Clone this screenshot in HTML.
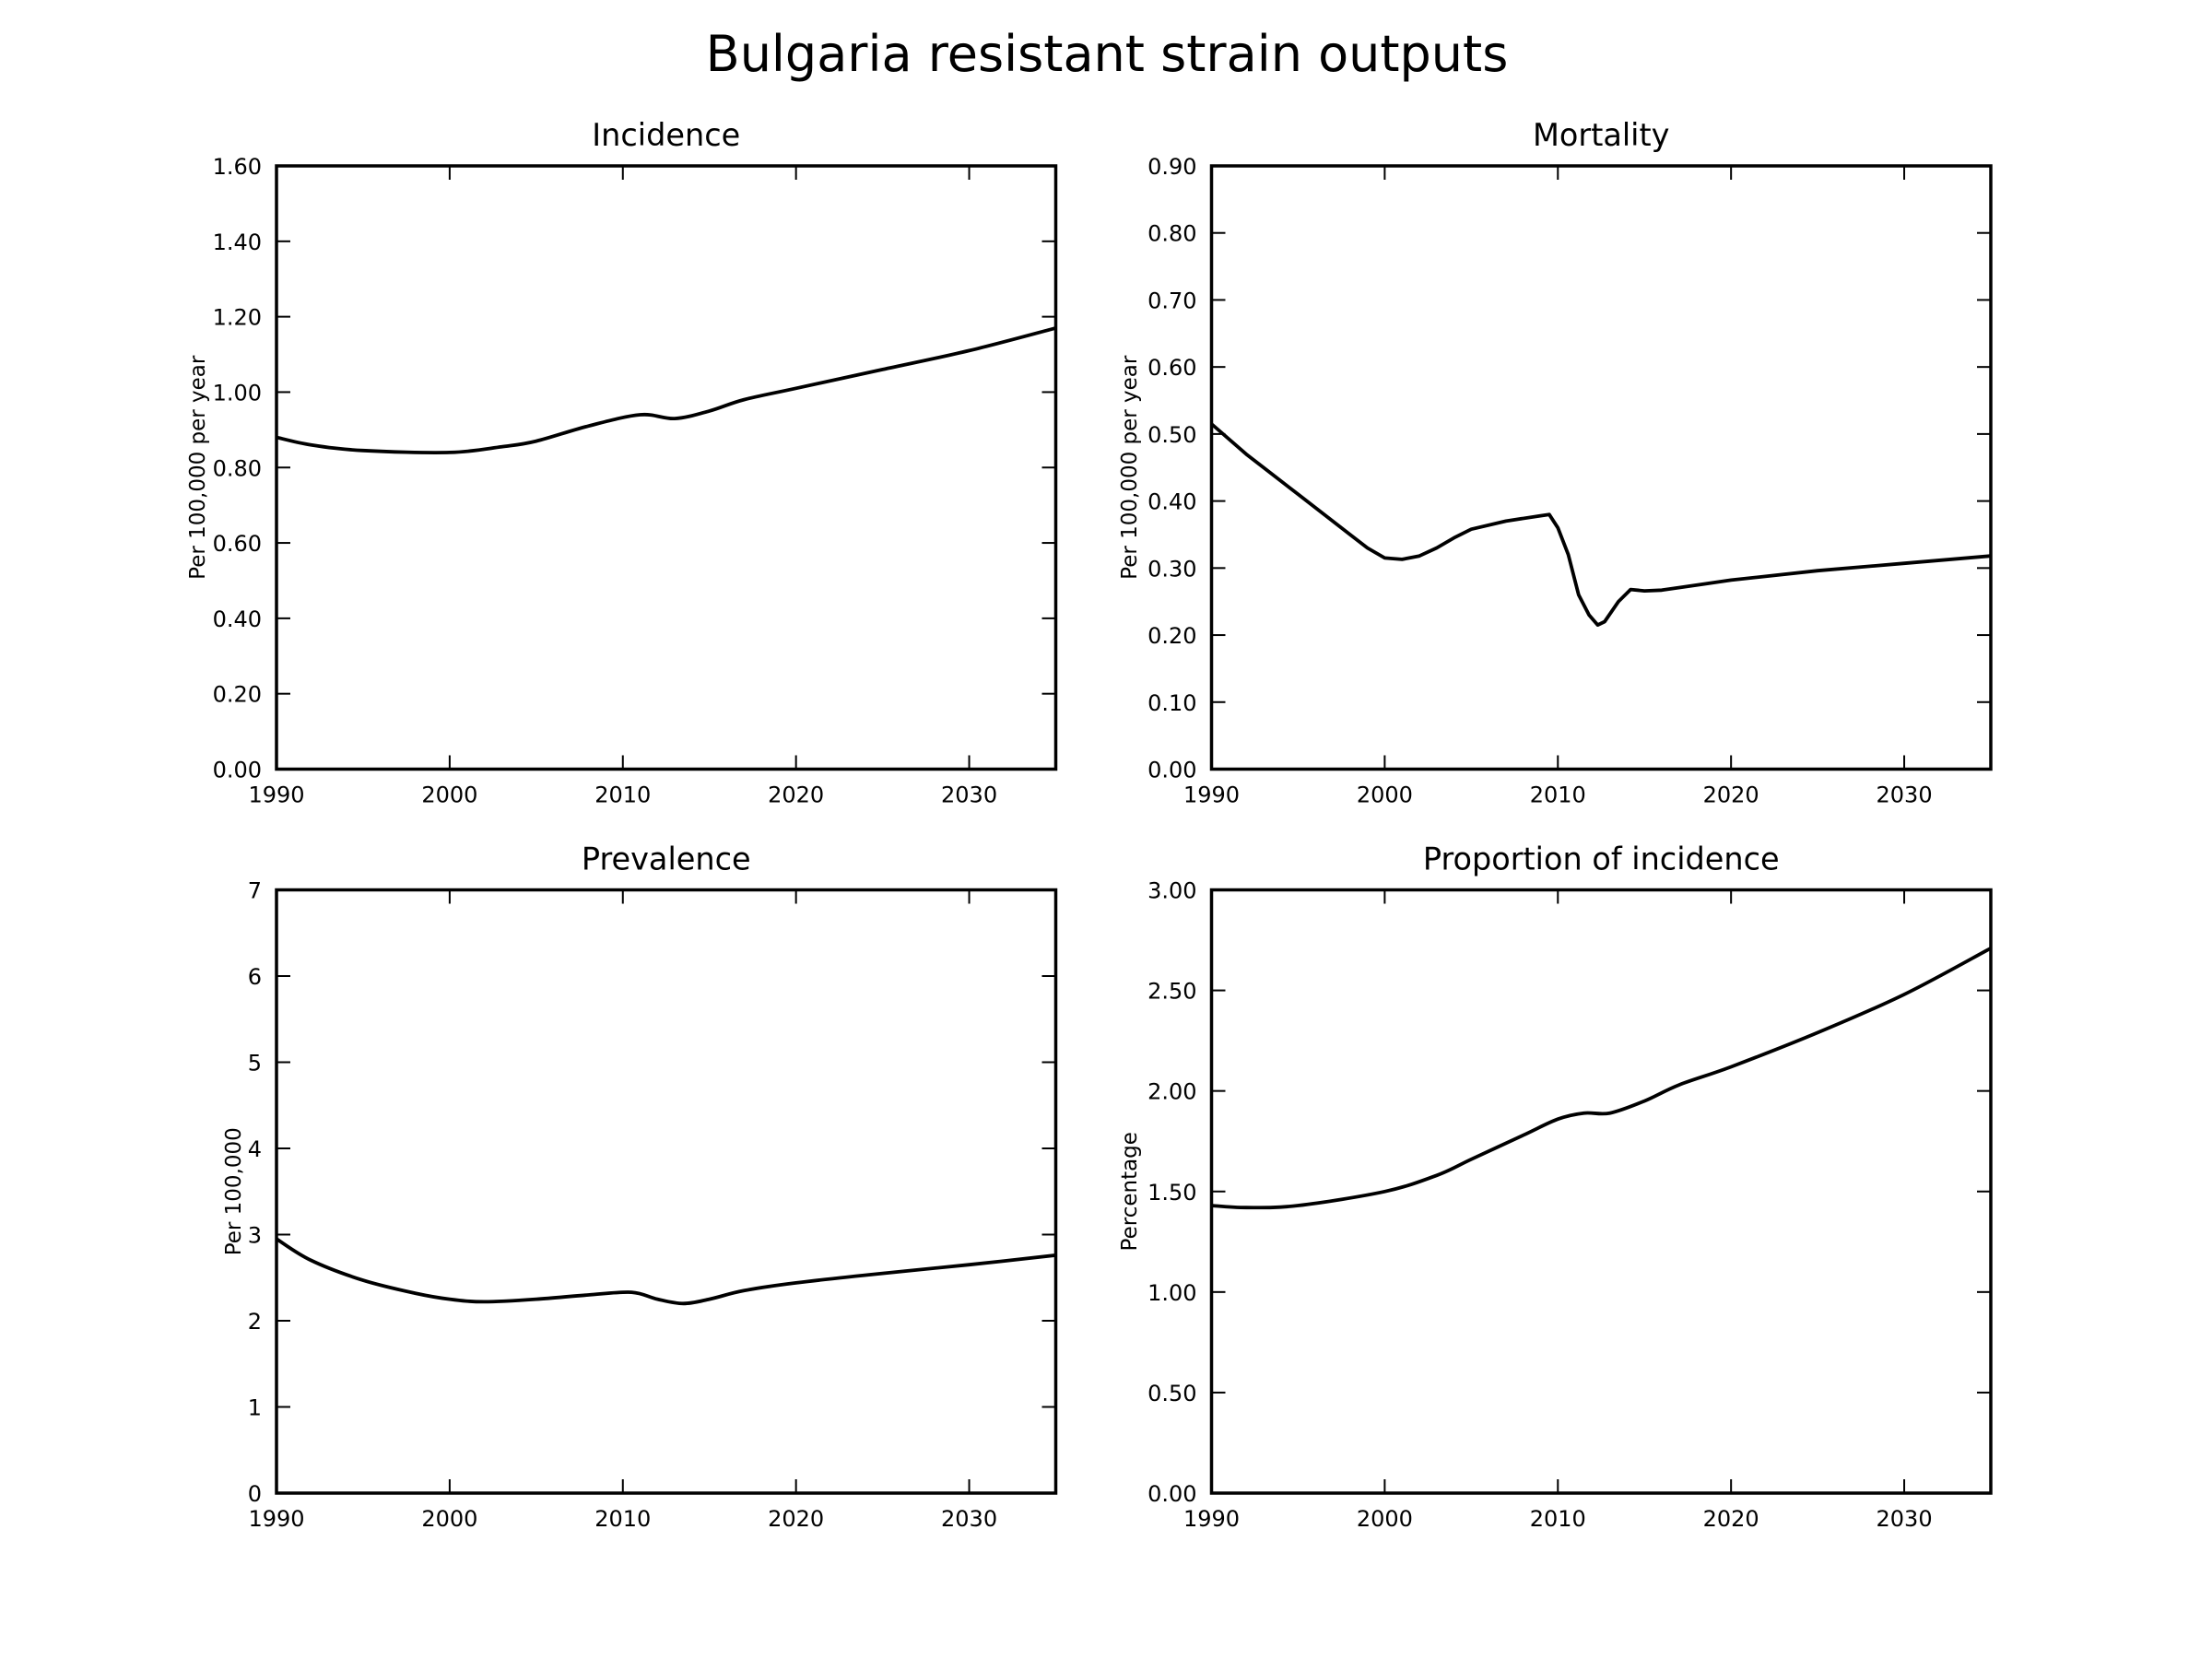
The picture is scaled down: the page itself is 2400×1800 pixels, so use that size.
<!DOCTYPE html>
<html><head><meta charset="utf-8"><style>
html,body{margin:0;padding:0;background:#fff;}
svg{display:block;font-family:"DejaVu Sans","Liberation Sans",sans-serif;}
</style></head><body>
<svg id="fig" width="2400" height="1800" viewBox="0 0 2400 1800" xmlns="http://www.w3.org/2000/svg">
<rect width="2400" height="1800" fill="#fff"/>
<text x="1201" y="77" font-size="54" text-anchor="middle">Bulgaria resistant strain outputs</text>
</svg>
<script>
const incYears=[1990,1992,1995,2000,2003,2005,2008,2011,2013,2015,2017,2020,2025,2030,2035];
const incVals=[0.88,0.86,0.845,0.84,0.855,0.87,0.91,0.94,0.93,0.95,0.98,1.01,1.06,1.11,1.17];
const morYears=[1990,1992,1995,1998,1999,2000,2001,2002,2003,2004,2005,2007,2009,2009.5,2010,2010.6,2011.2,2011.8,2012.3,2012.7,2013.5,2014.2,2015,2016,2020,2025,2030,2035];
const morVals=[0.515,0.47,0.41,0.35,0.33,0.315,0.313,0.318,0.33,0.345,0.358,0.37,0.378,0.38,0.36,0.32,0.26,0.23,0.215,0.22,0.25,0.268,0.266,0.267,0.282,0.296,0.307,0.318];
const prevYears=[1990,1992,1995,1998,2000,2002,2005,2008,2010.5,2012,2013.5,2015,2017,2020,2025,2030,2035];
const prevVals=[2.95,2.7,2.47,2.32,2.25,2.22,2.25,2.3,2.33,2.25,2.2,2.25,2.35,2.44,2.55,2.65,2.76];
const propYears=[1990,1992,1995,2000,2003,2005,2008,2010,2011.5,2013,2015,2017,2020,2025,2030,2035];
const propVals=[1.43,1.42,1.43,1.5,1.58,1.66,1.78,1.86,1.89,1.89,1.95,2.03,2.12,2.29,2.48,2.71];
const xTicks=[1990,2000,2010,2020,2030];
const incTicks=[0,0.2,0.4,0.6,0.8,1.0,1.2,1.4,1.6];
const morTicks=[0,0.1,0.2,0.3,0.4,0.5,0.6,0.7,0.8,0.9];
const prevTicks=[0,1,2,3,4,5,6,7];
const propTicks=[0,0.5,1.0,1.5,2.0,2.5,3.0];

const NS="http://www.w3.org/2000/svg";
const svg=document.getElementById('fig');
function mk(tag,attrs,parent){const e=document.createElementNS(NS,tag);for(const k in attrs)e.setAttribute(k,attrs[k]);(parent||svg).appendChild(e);return e;}
function smoothPath(p,sharp){
  let d='M'+p[0][0].toFixed(1)+','+p[0][1].toFixed(1);
  for(let i=0;i<p.length-1;i++){
    const p0=p[i-1]||p[i],p1=p[i],p2=p[i+1],p3=p[i+2]||p2;
    const k=sharp?0:1/6;
    const c1=[p1[0]+(p2[0]-p0[0])*k,p1[1]+(p2[1]-p0[1])*k];
    const c2=[p2[0]-(p3[0]-p1[0])*k,p2[1]-(p3[1]-p1[1])*k];
    d+=` C${c1[0].toFixed(1)},${c1[1].toFixed(1)} ${c2[0].toFixed(1)},${c2[1].toFixed(1)} ${p2[0].toFixed(1)},${p2[1].toFixed(1)}`;
  }
  return d;
}
function panel(key,x0,y0,title,ylabel,ylabX,years,vals,yTicks,dec,sharp){
  const W=845.5,H=654.5,xmin=1990,xmax=2035,ymin=yTicks[0],ymax=yTicks[yTicks.length-1];
  const g=mk('g',{});
  
  
  const sx=v=>x0+(v-xmin)/(xmax-xmin)*W;
  const sy=v=>y0+H-(v-ymin)/(ymax-ymin)*H;
  const t=mk('text',{x:x0+W/2,y:y0-22,'font-size':33.5,'text-anchor':'middle'},g);t.textContent=title;
  
  
  const yl=mk('text',{x:ylabX,y:y0+H/2,'font-size':23,'text-anchor':'middle',transform:`rotate(-90 ${ylabX} ${y0+H/2})`},g);yl.textContent=ylabel;
  
  
  xTicks.forEach(v=>{const x=sx(v);
    mk('line',{x1:x,x2:x,y1:y0+H,y2:y0+H-15,stroke:'#000','stroke-width':2},g);
    mk('line',{x1:x,x2:x,y1:y0,y2:y0+15,stroke:'#000','stroke-width':2},g);
    const l=mk('text',{x:x,y:y0+H+36,'font-size':24,'text-anchor':'middle'},g);l.textContent=String(v);
    
    
  });
  yTicks.forEach(v=>{const y=sy(v);
    mk('line',{x1:x0,x2:x0+15,y1:y,y2:y,stroke:'#000','stroke-width':2},g);
    mk('line',{x1:x0+W,x2:x0+W-15,y1:y,y2:y,stroke:'#000','stroke-width':2},g);
    const l=mk('text',{x:x0-16,y:y+9,'font-size':24,'text-anchor':'end'},g);l.textContent=v.toFixed(dec);
    
    
  });
  const pts=years.map((yr,i)=>[sx(yr),sy(vals[i])]);
  const line=mk('path',{d:smoothPath(pts,sharp),fill:'none',stroke:'#000','stroke-width':3.8,'stroke-linejoin':'round'},g);
  
  
  const f=mk('rect',{x:x0,y:y0,width:W,height:H,fill:'none',stroke:'#000','stroke-width':3.5},g);
  
  
}
panel('incidence',300,180,'Incidence','Per 100,000 per year',222,incYears,incVals,incTicks,2,false);
panel('mortality',1314.5,180,'Mortality','Per 100,000 per year',1233,morYears,morVals,morTicks,2,true);
panel('prevalence',300,965.5,'Prevalence','Per 100,000',261,prevYears,prevVals,prevTicks,0,false);
panel('proportion',1314.5,965.5,'Proportion of incidence','Percentage',1233,propYears,propVals,propTicks,2,false);
</script>
</body></html>
